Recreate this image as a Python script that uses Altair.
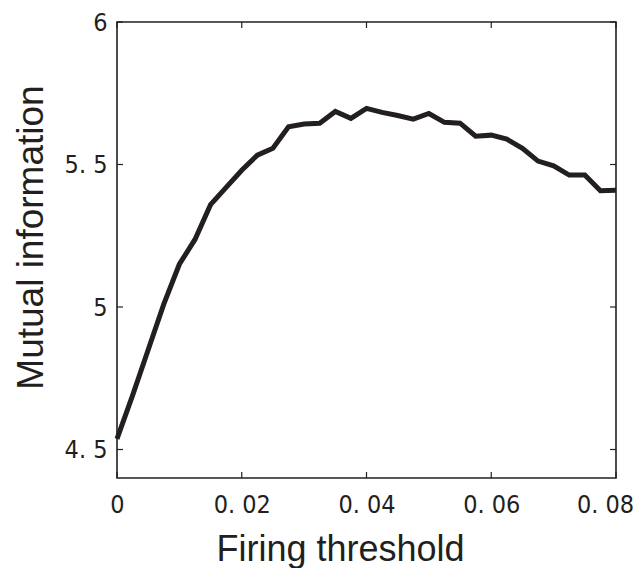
import altair as alt
import pandas as pd

# Data
threshold = [0.0, 0.0025, 0.005, 0.0075, 0.01, 0.0125, 0.015, 0.0175, 0.02, 0.0225,
             0.025, 0.0275, 0.03, 0.0325, 0.035, 0.0375, 0.04, 0.0425, 0.045, 0.0475,
             0.05, 0.0525, 0.055, 0.0575, 0.06, 0.0625, 0.065, 0.0675, 0.07, 0.0725,
             0.075, 0.0775, 0.08]
mutual_info = [4.537, 4.69, 4.85, 5.01, 5.15, 5.237, 5.359, 5.42, 5.48, 5.533,
               5.557, 5.632, 5.642, 5.645, 5.686, 5.662, 5.697, 5.683, 5.672, 5.659,
               5.679, 5.648, 5.645, 5.599, 5.603, 5.589, 5.557, 5.512, 5.495, 5.463,
               5.463, 5.408, 5.41]

x_ticks = [0, 0.02, 0.04, 0.06, 0.08]
y_ticks = [4.5, 5, 5.5, 6]

W, H = 499, 456
LABEL_FONT = "DejaVu Sans Condensed, Liberation Sans Narrow, sans-serif"
TITLE_FONT = "Liberation Sans, Arial, sans-serif"
INK = "#231f20"

df = pd.DataFrame({"t": threshold, "mi": mutual_info})
dfx = pd.DataFrame({"t": x_ticks})
dfy = pd.DataFrame({"mi": y_ticks})

xscale = alt.Scale(domain=[0, 0.08], nice=False, zero=False)
yscale = alt.Scale(domain=[4.4, 6], nice=False, zero=False)

line = alt.Chart(df).mark_line(
    color=INK, strokeWidth=5, strokeJoin="miter", strokeCap="butt"
).encode(
    x=alt.X("t:Q", scale=xscale, axis=alt.Axis(
        values=x_ticks, title="Firing threshold", grid=False, ticks=False, domain=False,
        labelFont=LABEL_FONT, labelFontSize=25, labelColor=INK, labelPadding=14,
        labelExpr="replace(toString(datum.value), '.', '. ')",
        labelOffset={"condition": {"test": "datum.value >= 0.08", "value": -11}, "value": 0},
        titleFont=TITLE_FONT, titleFontSize=36, titleFontWeight="normal", titleColor=INK,
        titleX=223, titleY=82, titleBaseline="alphabetic", titleAnchor="middle",
        labelFlush=False, labelOverlap=False)),
    y=alt.Y("mi:Q", scale=yscale, axis=alt.Axis(
        values=y_ticks, title="Mutual information", grid=False, ticks=False, domain=False,
        labelFont=LABEL_FONT, labelFontSize=25, labelColor=INK, labelPadding=10,
        labelExpr="replace(toString(datum.value), '.', '. ')",
        titleFont=TITLE_FONT, titleFontSize=37, titleFontWeight="normal", titleColor=INK,
        titleX=-75, titleY=215, titleBaseline="alphabetic", titleAnchor="middle",
        labelFlush=False, labelOverlap=False)),
)

tick_style = dict(color=INK, strokeWidth=1.2)
xt_bottom = alt.Chart(dfx).mark_rule(**tick_style).encode(
    x=alt.X("t:Q", scale=xscale), y=alt.value(H), y2=alt.value(H - 6))
xt_top = alt.Chart(dfx).mark_rule(**tick_style).encode(
    x=alt.X("t:Q", scale=xscale), y=alt.value(0), y2=alt.value(6))
yt_left = alt.Chart(dfy).mark_rule(**tick_style).encode(
    y=alt.Y("mi:Q", scale=yscale), x=alt.value(0), x2=alt.value(6))
yt_right = alt.Chart(dfy).mark_rule(**tick_style).encode(
    y=alt.Y("mi:Q", scale=yscale), x=alt.value(W), x2=alt.value(W - 6))

chart = alt.layer(line, xt_bottom, xt_top, yt_left, yt_right).properties(
    width=W, height=H,
    autosize=alt.AutoSizeParams(type="none"),
    padding={"left": 109, "top": 14, "right": 18, "bottom": 90},
    background="white",
).configure_view(stroke=INK, strokeWidth=1.6)

chart.save("out.html", embed_options={"renderer": "svg", "actions": False})
